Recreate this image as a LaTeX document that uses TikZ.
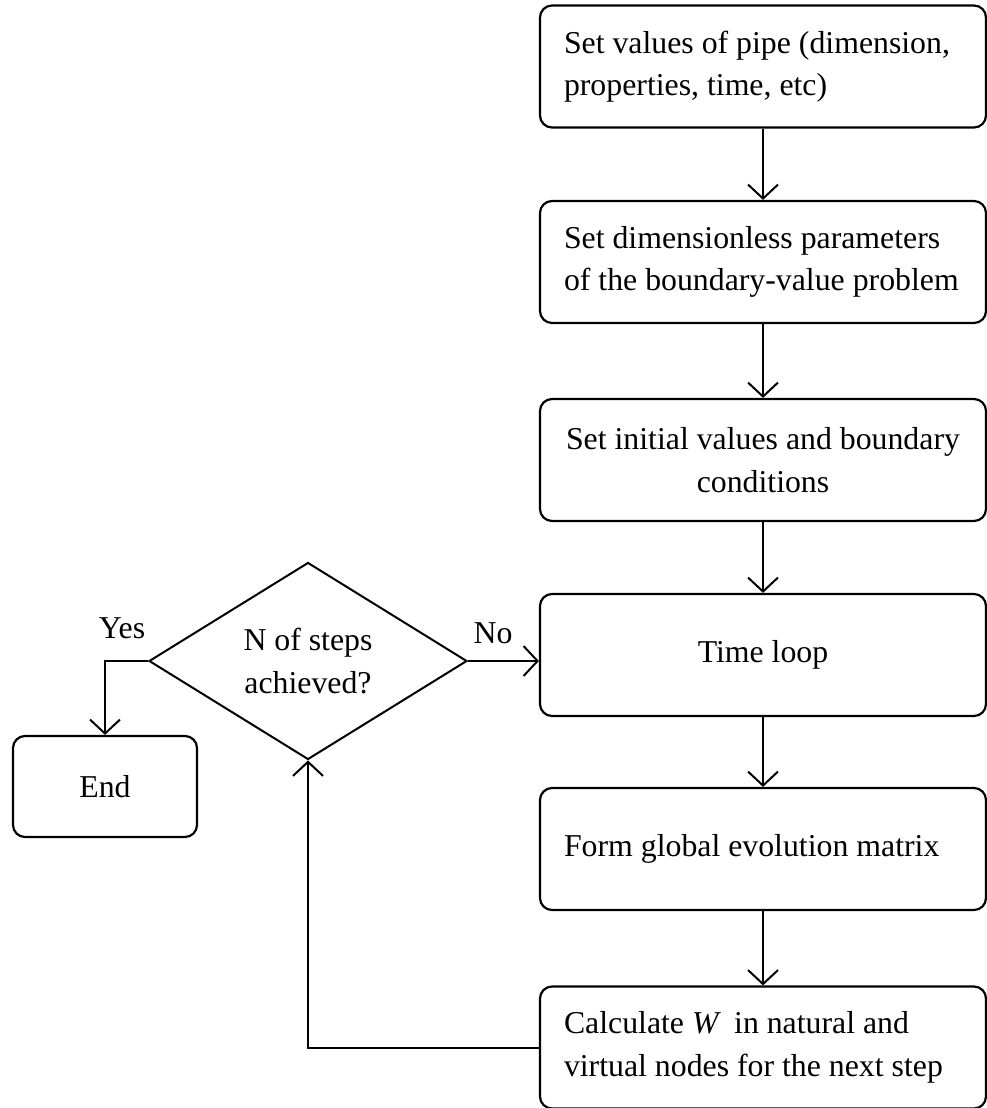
\documentclass[tikz,border=0pt]{standalone}
\usepackage{fontspec}
\setmainfont{Liberation Serif}
\usetikzlibrary{shapes.geometric,arrows.meta}
\begin{document}
\begin{tikzpicture}[x=1pt,y=-1pt,
  font=\fontsize{31.8}{42.5}\selectfont,
  box/.style={draw, line width=2.2pt, rounded corners=12pt, minimum width=446pt,
    minimum height=122pt, text width=398pt, inner xsep=24pt, inner ysep=0pt, align=flush left},
  cbox/.style={draw, line width=2.2pt, rounded corners=12pt, minimum width=446pt,
    minimum height=122pt, inner xsep=0pt, inner ysep=0pt, align=center},
  endbox/.style={draw, line width=2.2pt, rounded corners=12pt, minimum width=184pt,
    minimum height=101pt, inner sep=0pt},
  decision/.style={draw, diamond, line width=2pt, minimum width=318pt, minimum height=197pt,
    shape aspect=1.61, inner sep=0pt, align=center},
  arr/.style={line width=2pt, -{Straight Barb[length=14pt,width=30pt,line width=2pt]}},
  lbl/.style={anchor=base, inner sep=0pt}
]
\useasboundingbox (0,0) rectangle (987,1108);

\node[box]  (b1) at (763,66.5) {Set values of pipe (dimension,\\properties, time, etc)};
\node[box]  (b2) at (763,262)  {\mbox{Set dimensionless parameters}\\\mbox{of the boundary-value problem}};
\node[cbox] (b3) at (763,460)  {Set initial values and boundary\\conditions};
\node[cbox] (b4) at (763,655)  {Time loop};
\node[box]  (b5) at (763,849)  {Form global evolution matrix};
\node[box]  (b6) at (763,1047.5) {Calculate \textit{W}\, in natural and\\virtual nodes for the next step};

\node[decision] (d) at (308,661) {N of steps\\achieved?};
\node[endbox] (e) at (105,786.5) {End};

\node[lbl] (yes) at (122,638) {Yes};
\node[lbl] (no) at (493,643) {No};

\draw[arr] (b1) -- (b2);
\draw[arr] (b2) -- (b3);
\draw[arr] (b3) -- (b4);
\draw[arr] (b4) -- (b5);
\draw[arr] (b5) -- (b6);
\draw[arr] (d.east) -- (d.east -| b4.west);
\draw[arr] (d.west) -| (e.north);
\draw[arr] (b6.west) -| (d.south);
\end{tikzpicture}
\end{document}
